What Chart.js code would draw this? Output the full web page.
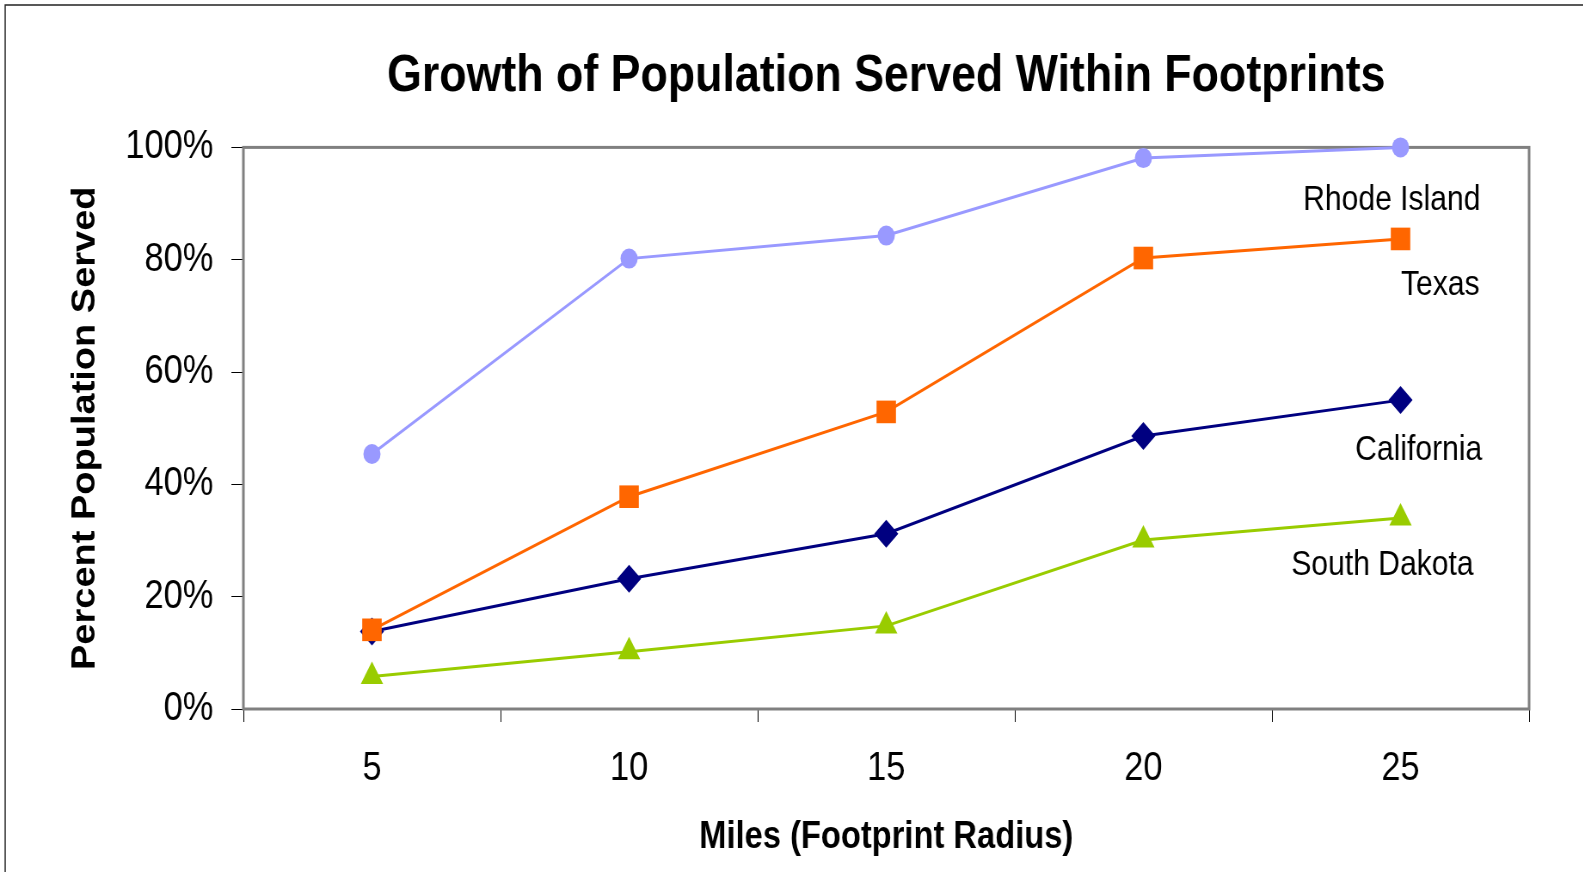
<!DOCTYPE html>
<html>
<head>
<meta charset="utf-8">
<title>Growth of Population Served Within Footprints</title>
<script src="https://cdn.jsdelivr.net/npm/chart.js@4/dist/chart.umd.min.js"></script>
<style>
  html, body { margin: 0; padding: 0; background: #fff; overflow: hidden; }
  /* the reference is a bit squeezed sideways, so draw wider and squash */
  #wrap { width: 1841px; height: 872px; transform: scaleX(0.86); transform-origin: 0 0; }
</style>
</head>
<body>
<div id="wrap"><canvas id="chart"></canvas></div>
<script>
// 数据
const miles = ['5', '10', '15', '20', '25'];
const rhodeIsland = [45.4, 80.2, 84.3, 98.1, 100];
const texas = [14.1, 37.8, 52.9, 80.3, 83.7];
const california = [13.8, 23.2, 31.2, 48.6, 55.0];
const southDakota = [5.8, 10.2, 14.8, 30.1, 34.0];
const percentTicks = [0, 20, 40, 60, 80, 100];

const FONT = "'Liberation Sans', Arial, Helvetica, sans-serif";

// 画外框和绘图区边框
const framePlugin = {
    id: 'frame',
    beforeDraw(chart) {
        const ctx = chart.ctx;
        ctx.save();
        ctx.strokeStyle = '#222';
        ctx.lineWidth = 1.5;
        ctx.strokeRect(6, 5, chart.width + 20, chart.height + 20);
        ctx.restore();
    },
    beforeDatasetsDraw(chart) {
        const { ctx, chartArea: a } = chart;
        ctx.save();
        ctx.strokeStyle = '#808080';
        ctx.lineWidth = 3;
        ctx.strokeRect(a.left, a.top, a.right - a.left, a.bottom - a.top);
        ctx.restore();
    }
};

// 系列名称标签，放在最后一个点的右下方
const seriesLabelPlugin = {
    id: 'seriesLabels',
    afterDatasetsDraw(chart) {
        const ctx = chart.ctx;
        const offsets = [[93, 53], [92, 46], [95, 50], [85, 47]];
        ctx.save();
        ctx.font = '35px ' + FONT;
        ctx.fillStyle = '#000';
        ctx.textAlign = 'right';
        ctx.textBaseline = 'middle';
        chart.data.datasets.forEach((ds, i) => {
            const pts = chart.getDatasetMeta(i).data;
            const last = pts[pts.length - 1];
            ctx.fillText(ds.label, last.x + offsets[i][0], last.y + offsets[i][1]);
        });
        ctx.restore();
    }
};

function series(label, data, color, style, radius) {
    return {
        label: label,
        data: data,
        borderColor: color,
        backgroundColor: color,
        borderWidth: 3,
        pointStyle: style,
        pointRadius: radius,
        pointHoverRadius: radius,
        pointBorderWidth: 0,
        tension: 0,
        clip: false
    };
}

const ctx = document.getElementById('chart').getContext('2d');
new Chart(ctx, {
    type: 'line',
    data: {
        labels: miles,
        datasets: [
            series('Rhode Island', rhodeIsland, '#9999FF', 'circle', 10),
            series('Texas', texas, '#FF6600', 'rect', 16),
            series('California', california, '#000080', 'rectRot', 14),
            series('South Dakota', southDakota, '#99CC00', 'triangle', 15)
        ]
    },
    options: {
        responsive: true,
        maintainAspectRatio: false,
        animation: false,
        layout: { padding: { top: 0, right: 63, bottom: 0, left: 0 } },
        plugins: {
            legend: { display: false },
            tooltip: { enabled: false },
            title: {
                display: true,
                fullSize: false,
                text: 'Growth of Population Served Within Footprints',
                color: '#000',
                font: { family: FONT, size: 52, weight: 'bold' },
                padding: { top: 45, bottom: 40 }
            }
        },
        scales: {
            x: {
                offset: true,
                afterFit: (scale) => { scale.height = 163; },
                border: { display: false },
                grid: {
                    offset: true,
                    drawOnChartArea: false,
                    drawTicks: true,
                    tickLength: 13,
                    color: '#000',
                    lineWidth: 1
                },
                ticks: {
                    color: '#000',
                    padding: 23,
                    font: { family: FONT, size: 40 }
                },
                title: {
                    display: true,
                    text: 'Miles (Footprint Radius)',
                    color: '#000',
                    font: { family: FONT, size: 38, weight: 'bold' },
                    padding: { top: 0, bottom: 12 }
                }
            },
            y: {
                min: 0,
                max: 100,
                afterFit: (scale) => { scale.width = 283; },
                afterBuildTicks: (scale) => {
                    scale.ticks = percentTicks.map(v => ({ value: v }));
                },
                border: { display: false },
                grid: {
                    drawOnChartArea: false,
                    drawTicks: true,
                    tickLength: 14,
                    color: '#000',
                    lineWidth: 1
                },
                ticks: {
                    color: '#000',
                    padding: 21,
                    font: { family: FONT, size: 40 },
                    callback: (v) => v + '%'
                },
                title: {
                    display: true,
                    text: 'Percent Population Served',
                    color: '#000',
                    font: { family: FONT, size: 38, weight: 'bold' },
                    padding: { top: 77, bottom: 0 }
                }
            }
        }
    },
    plugins: [framePlugin, seriesLabelPlugin]
});
</script>
</body>
</html>
